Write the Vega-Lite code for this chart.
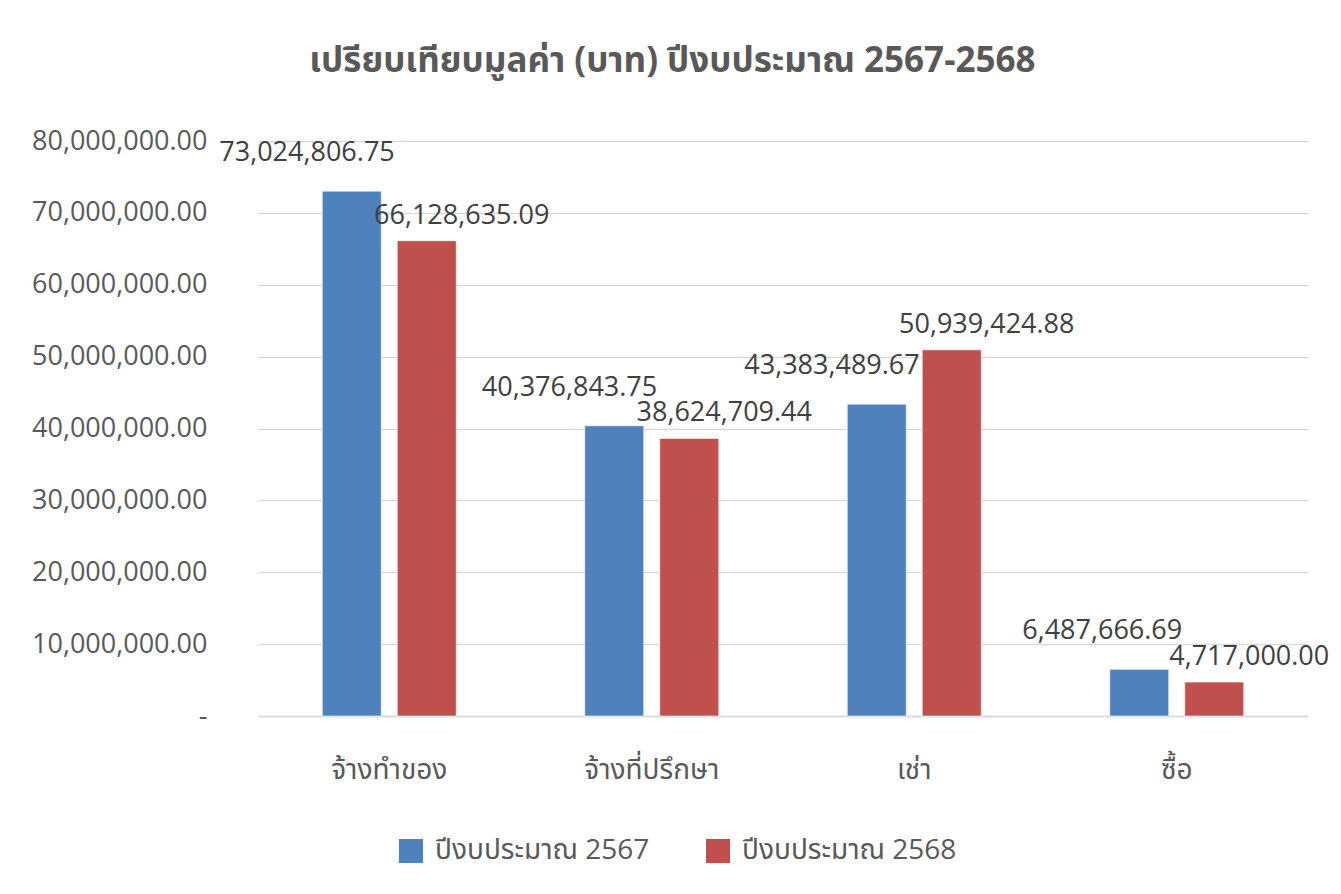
{
  "$schema": "https://vega.github.io/schema/vega-lite/v6.json",
  "width": 1050,
  "height": 575,
  "autosize": "none",
  "padding": {"left": 258, "top": 141, "right": 33, "bottom": 178},
  "background": "white",
  "config": {"font": "Open Sans, Noto Sans Thai, Noto Sans, sans-serif", "view": {"stroke": null}},
  "title": {
    "text": "เปรียบเทียบมูลค่า (บาท) ปีงบประมาณ 2567-2568",
    "fontSize": 35,
    "fontWeight": "bold",
    "color": "#595959",
    "frame": "bounds",
    "anchor": "middle",
    "offset": 48,
    "dx": -8
  },
  "data": {
    "values": [
      {"category": "จ้างทำของ", "year": "ปีงบประมาณ 2567", "value": 73024806.75},
      {"category": "จ้างทำของ", "year": "ปีงบประมาณ 2568", "value": 66128635.09},
      {"category": "จ้างที่ปรึกษา", "year": "ปีงบประมาณ 2567", "value": 40376843.75},
      {"category": "จ้างที่ปรึกษา", "year": "ปีงบประมาณ 2568", "value": 38624709.44},
      {"category": "เช่า", "year": "ปีงบประมาณ 2567", "value": 43383489.67},
      {"category": "เช่า", "year": "ปีงบประมาณ 2568", "value": 50939424.88},
      {"category": "ซื้อ", "year": "ปีงบประมาณ 2567", "value": 6487666.69},
      {"category": "ซื้อ", "year": "ปีงบประมาณ 2568", "value": 4717000.00}
    ]
  },
  "encoding": {
    "x": {
      "field": "category",
      "type": "nominal",
      "sort": ["จ้างทำของ", "จ้างที่ปรึกษา", "เช่า", "ซื้อ"],
      "scale": {"paddingInner": 0.4895, "paddingOuter": 0.2448},
      "axis": {
        "title": null,
        "labelAngle": 0,
        "labelFontSize": 28,
        "labelColor": "#595959",
        "labelPadding": 40,
        "ticks": false,
        "domainColor": "#D9D9D9",
        "domainWidth": 1.5
      }
    },
    "xOffset": {
      "field": "year",
      "type": "nominal",
      "sort": ["ปีงบประมาณ 2567", "ปีงบประมาณ 2568"],
      "scale": {"paddingInner": 0.2133, "paddingOuter": 0}
    },
    "y": {
      "field": "value",
      "type": "quantitative",
      "scale": {"domain": [0, 80000000], "nice": false},
      "axis": {
        "title": null,
        "values": [0, 10000000, 20000000, 30000000, 40000000, 50000000, 60000000, 70000000, 80000000],
        "labelOverlap": false,
        "labelExpr": "datum.value == 0 ? '-\u00a0\u00a0\u00a0' : format(datum.value, ',.2f')",
        "labelFontSize": 27,
        "labelColor": "#595959",
        "labelPadding": 51,
        "ticks": false,
        "domain": false,
        "gridColor": "#D9D9D9",
        "gridWidth": 1.5
      }
    }
  },
  "layer": [
    {
      "mark": {"type": "bar", "stroke": "white", "strokeWidth": 1, "strokeOpacity": 0.6},
      "encoding": {
        "color": {
          "field": "year",
          "type": "nominal",
          "scale": {"domain": ["ปีงบประมาณ 2567", "ปีงบประมาณ 2568"], "range": ["#4F81BD", "#C0504D"]},
          "legend": {
            "title": null,
            "orient": "none",
            "legendX": 139,
            "legendY": 696,
            "direction": "horizontal",
            "symbolType": "square",
            "symbolSize": 576,
            "symbolStrokeWidth": 0,
            "labelFontSize": 28,
            "labelColor": "#595959",
            "labelOffset": 10,
            "columnPadding": 54,
            "labelLimit": 400
          }
        }
      }
    },
    {
      "transform": [{"filter": "datum.year == 'ปีงบประมาณ 2567'"}],
      "mark": {"type": "text", "align": "right", "baseline": "middle", "dx": 43, "dy": -38, "fontSize": 27, "color": "#404040"},
      "encoding": {"text": {"field": "value", "type": "quantitative", "format": ",.2f"}}
    },
    {
      "transform": [{"filter": "datum.year == 'ปีงบประมาณ 2568'"}],
      "mark": {"type": "text", "align": "center", "baseline": "middle", "dx": 35, "dy": -25, "fontSize": 27, "color": "#404040"},
      "encoding": {"text": {"field": "value", "type": "quantitative", "format": ",.2f"}}
    }
  ]
}
